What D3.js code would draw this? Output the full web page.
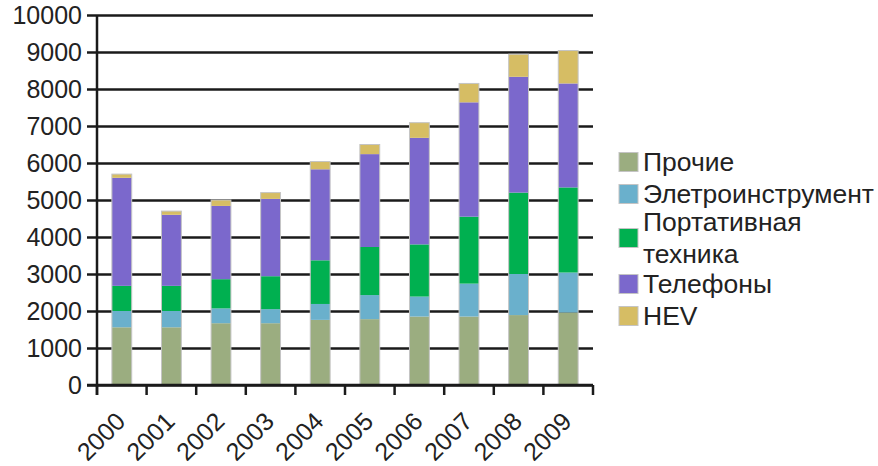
<!DOCTYPE html>
<html>
<head>
<meta charset="utf-8">
<script src="https://cdn.jsdelivr.net/npm/d3@7"></script>
<style>
  body { margin: 0; background: #fff; }
  text { font-family: "Liberation Sans", Arial, sans-serif; fill: #222; }
</style>
</head>
<body>
<div id="chart"></div>
<script>
const years = ['2000', '2001', '2002', '2003', '2004', '2005', '2006', '2007', '2008', '2009'];
const seriesNames = ['Прочие', 'Элетроинструмент', 'Портативная техника', 'Телефоны', 'HEV'];
const other    = [1560, 1560, 1670, 1670, 1760, 1780, 1850, 1850, 1890, 1960];
const tools    = [440, 440, 400, 380, 430, 650, 540, 890, 1110, 1080];
const portable = [680, 680, 790, 890, 1180, 1300, 1410, 1810, 2200, 2300];
const phones   = [2920, 1920, 1980, 2090, 2460, 2510, 2880, 3090, 3130, 2810];
const hev      = [100, 100, 160, 170, 210, 260, 410, 510, 610, 890];
const yTicks = [0, 1000, 2000, 3000, 4000, 5000, 6000, 7000, 8000, 9000, 10000];
const colors = ['#9bad80', '#6ab0cc', '#00b050', '#7b68cc', '#d6bd64'];

const width = 878, height = 466;
const plotLeft = 97, plotRight = 593, plotTop = 15, plotBottom = 385;

const svg = d3.select('#chart')
  .append('svg')
    .attr('width', width)
    .attr('height', height);

const keys = ['other', 'tools', 'portable', 'phones', 'hev'];
const table = years.map((yr, i) => ({
  year: yr, other: other[i], tools: tools[i], portable: portable[i], phones: phones[i], hev: hev[i]
}));
const stacked = d3.stack().keys(keys)(table);

let x = d3.scaleBand()
  .domain(years)
  .range([plotLeft, plotRight])
  .padding(0);

let y = d3.scaleLinear()
  .domain([0, 10000])
  .range([plotBottom, plotTop]);

// gridlines + y labels
svg.append('g')
  .attr('transform', 'translate(' + plotLeft + ',0)')
  .call(d3.axisLeft(y).tickValues(yTicks).tickSize(10).tickFormat(d3.format('d')))
  .call(g => g.select('.domain').remove())
  .call(g => g.selectAll('.tick line').clone()
      .attr('x2', plotRight - plotLeft))
  .call(g => g.selectAll('.tick line')
      .attr('stroke', '#1a1a1a')
      .attr('stroke-width', 2.5))
  .call(g => g.selectAll('.tick text')
      .attr('x', -15)
      .attr('font-size', 25)
      .attr('font-family', '"Liberation Sans", Arial, sans-serif')
      .attr('fill', '#222'));

// bars
const barW = x.bandwidth() * 0.4;
const layers = svg.append('g')
  .selectAll('g')
  .data(stacked)
  .join('g')
    .attr('fill', (d, i) => colors[i]);

layers.selectAll('rect')
  .data(d => d)
  .join('rect')
    .attr('x', d => x(d.data.year) + (x.bandwidth() - barW) / 2)
    .attr('y', d => y(d[1]))
    .attr('width', barW)
    .attr('height', d => y(d[0]) - y(d[1]));

// faint outline of each bar
svg.append('g')
  .selectAll('rect')
  .data(table)
  .join('rect')
    .attr('x', d => x(d.year) + (x.bandwidth() - barW) / 2)
    .attr('y', d => y(d3.sum(keys, k => d[k])))
    .attr('width', barW)
    .attr('height', d => plotBottom - y(d3.sum(keys, k => d[k])))
    .attr('fill', 'none')
    .attr('stroke', '#c4c4c4')
    .attr('stroke-width', 1);

// y axis line
svg.append('line')
  .attr('x1', plotLeft).attr('x2', plotLeft)
  .attr('y1', plotTop).attr('y2', plotBottom + 10)
  .attr('stroke', '#1a1a1a')
  .attr('stroke-width', 2.5);

// x axis: ticks at band edges
const edges = years.map(d => x(d)).concat([plotRight]);
svg.append('g')
  .selectAll('line')
  .data(edges)
  .join('line')
    .attr('x1', d => d).attr('x2', d => d)
    .attr('y1', plotBottom).attr('y2', plotBottom + 10)
    .attr('stroke', '#1a1a1a')
    .attr('stroke-width', 2.5);

svg.append('line')
  .attr('x1', plotLeft - 10).attr('x2', plotRight)
  .attr('y1', plotBottom).attr('y2', plotBottom)
  .attr('stroke', '#1a1a1a')
  .attr('stroke-width', 2.5);

svg.append('g')
  .selectAll('text')
  .data(years)
  .join('text')
    .attr('transform', d => 'translate(' + (x(d) + x.bandwidth() / 2 + 5) + ',' + (plotBottom + 38) + ') rotate(-45)')
    .attr('text-anchor', 'end')
    .attr('font-size', 25)
    .text(d => d);

// legend
const legendY = [162, 194, 238, 284, 316];
const legend = svg.append('g')
  .selectAll('g')
  .data(seriesNames)
  .join('g')
    .attr('transform', (d, i) => 'translate(619,' + legendY[i] + ')');

legend.append('rect')
  .attr('x', 0).attr('y', -9.5)
  .attr('width', 19).attr('height', 19)
  .attr('fill', (d, i) => colors[i])
  .attr('stroke', '#c4c4c4')
  .attr('stroke-width', 1);

legend.each(function (d) {
  const lines = d === 'Портативная техника' ? ['Портативная', 'техника'] : [d];
  const t = d3.select(this).append('text')
    .attr('transform', 'translate(24,0) scale(1.06,1)')
    .attr('font-size', 25);
  lines.forEach((s, j) => {
    t.append('tspan')
      .attr('x', 0)
      .attr('y', (j - (lines.length - 1) / 2) * 33)
      .attr('dy', '0.36em')
      .text(s);
  });
});
</script>
</body>
</html>
